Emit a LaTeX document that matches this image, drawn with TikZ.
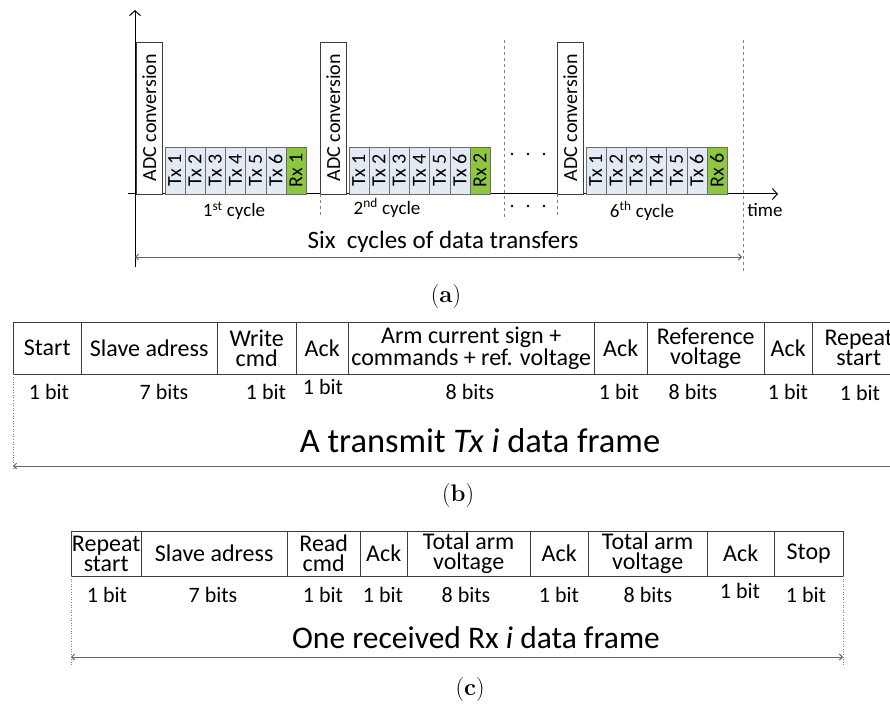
\documentclass[tikz,border=0pt]{standalone}
\usepackage{fontspec}
\usepackage{tikz}
\usetikzlibrary{positioning,arrows.meta}
\newfontfamily\calibri{Carlito}
\definecolor{txfill}{HTML}{E4EAF4}
\definecolor{rxfill}{HTML}{8DC63F}
\definecolor{edge}{HTML}{3C3C3C}

\tikzset{
  adcbox/.style={draw=edge, fill=white, rotate=90, anchor=north west, minimum width=152pt, minimum height=26pt, inner sep=0pt, font=\calibri\fontsize{20}{20}\selectfont},
  txbox/.style={draw=edge!75, fill=txfill, rotate=90, anchor=north west, minimum width=47pt, minimum height=20.2pt, inner sep=0pt, font=\calibri\fontsize{20}{20}\selectfont},
  rxbox/.style={txbox, fill=rxfill},
  field/.style={draw=edge, anchor=north west, inner sep=0pt, align=center, font=\calibri\fontsize{24}{20}\selectfont},
  bits/.style={font=\calibri\fontsize{22}{22}\selectfont},
  small/.style={font=\calibri\fontsize{19}{19}\selectfont},
  dim/.style={draw=gray!80!black, line width=1pt, {Straight Barb[length=3pt,width=6pt]}-{Straight Barb[length=3pt,width=6pt]}},
  axis/.style={draw=black, line width=1pt, -{Straight Barb[length=5pt,width=11pt]}},
  cut/.style={draw=gray, dashed, line width=0.8pt},
  edgeline/.style={draw=gray, dotted, line width=0.6pt},
  caption/.style={font=\fontsize{24}{24}\selectfont},
}

\begin{document}
\begin{tikzpicture}[x=1pt, y=-1pt]
  \useasboundingbox (0,0) rectangle (890,711);
  \clip (0,0) rectangle (890,711);

  % (a) time line
  \coordinate (yfoot) at (135,267);
  \coordinate (ytip) at (135,10);
  \coordinate (xfoot) at (128,194);
  \coordinate (xtip) at (778,194);
  \draw[axis] (yfoot) -- (ytip);
  \draw[axis] (xfoot) -- (xtip);

  \foreach \cx/\n in {136/1, 320/2, 557/6} {
    \node[adcbox] (adc\n) at (\cx,194) {ADC conversion};
    \foreach \k in {1,...,6}
      \node[txbox] (tx\n\k) at (\cx+28.5+20.2*\k-20.2,194) {Tx \k};
    \node[rxbox] (rx\n) at (\cx+28.5+20.2*6,194) {Rx \n};
  }

  \coordinate (c2top) at (320,194);
  \coordinate (c2bot) at (320,218);
  \coordinate (d1top) at (504,40);
  \coordinate (d1bot) at (504,218);
  \coordinate (c6top) at (557,194);
  \coordinate (c6bot) at (557,218);
  \coordinate (endtop) at (743,40);
  \coordinate (endbot) at (743,272);
  \draw[cut] (c2top) -- (c2bot);
  \draw[cut] (d1top) -- (d1bot);
  \draw[cut] (c6top) -- (c6bot);
  \draw[cut] (endtop) -- (endbot);

  \foreach \x in {512,528,544} {
    \fill (\x,154) circle (1.3pt);
    \fill (\x,206) circle (1.3pt);
  }

  \node[small] (cyc1) at (234,211) {1\textsuperscript{st} cycle};
  \node[small] (cyc2) at (387,208) {2\textsuperscript{nd} cycle};
  \node[small] (cyc6) at (642,211) {6\textsuperscript{th} cycle};
  \node[small] (time) at (765,210) {time};

  \node[font=\calibri\fontsize{25}{25}\selectfont] (six) at (443,242) {Six~ cycles of data transfers};
  \coordinate (sixL) at (135,257);
  \coordinate (sixR) at (742,257);
  \draw[dim] (sixL) -- (sixR);

  \node[caption] (capa) at (446,297) {(\textbf{a})};

  % (b) transmit frame
  \foreach \l/\r/\t [count=\i] in {13/81/Start, 81/217/Slave adress, 217/296/{Write\\cmd}, 296/348/Ack,
      348/594/{Arm current sign +\\commands + ref. voltage}, 594/647/Ack, 647/764/{Reference\\voltage},
      764/812/Ack, 812/905/{Repeat\\start}}
    \node[field, minimum width={\r-\l}, minimum height=52pt] (tf\i) at (\l,322) {\t};

  \foreach \x/\y/\t [count=\i] in {49/392/1 bit, 164/392/7 bits, 266/392/1 bit, 323/387/1 bit, 470/392/8 bits,
      619/392/1 bit, 693/392/8 bits, 788/392/1 bit, 860/393/1 bit}
    \node[bits] (tb\i) at (\x,\y) {\t};

  \coordinate (tlineTop) at (13,374);
  \coordinate (tlineBot) at (13,470);
  \draw[edgeline] (tlineTop) -- (tlineBot);
  \node[font=\calibri\fontsize{34.5}{34.5}\selectfont] (tcap) at (480,441) {A transmit \textit{Tx i} data frame};
  \coordinate (tL) at (13,466);
  \coordinate (tR) at (905,466);
  \draw[dim] (tL) -- (tR);

  \node[caption] (capb) at (458,496) {(\textbf{b})};

  % (c) received frame
  \foreach \l/\r/\t [count=\i] in {71/141/{Repeat\\start}, 141/287/Slave adress, 287/360/{Read\\cmd}, 360/407/Ack,
      407/530/{Total arm\\voltage}, 530/588/Ack, 588/707/{Total arm\\voltage}, 707/774/Ack, 774/843/Stop}
    \node[field, minimum width={\r-\l}, minimum height=45pt] (rf\i) at (\l,531) {\t};

  \foreach \x/\y/\t [count=\i] in {107/595/1 bit, 213/595/7 bits, 323/595/1 bit, 383/595/1 bit, 466/595/8 bits,
      559/595/1 bit, 648/595/8 bits, 740/591/1 bit, 806/595/1 bit}
    \node[bits] (rb\i) at (\x,\y) {\t};

  \coordinate (rlineLt) at (71,576);
  \coordinate (rlineLb) at (71,666);
  \coordinate (rlineRt) at (843,576);
  \coordinate (rlineRb) at (843,666);
  \draw[edgeline] (rlineLt) -- (rlineLb);
  \draw[edgeline] (rlineRt) -- (rlineRb);
  \node[font=\calibri\fontsize{31.5}{31.5}\selectfont] (rcap) at (476,638) {One received Rx \textit{i} data frame};
  \coordinate (rL) at (71,657);
  \coordinate (rR) at (843,657);
  \draw[dim] (rL) -- (rR);

  \node[caption] (capc) at (470,690) {(\textbf{c})};
\end{tikzpicture}
\end{document}
